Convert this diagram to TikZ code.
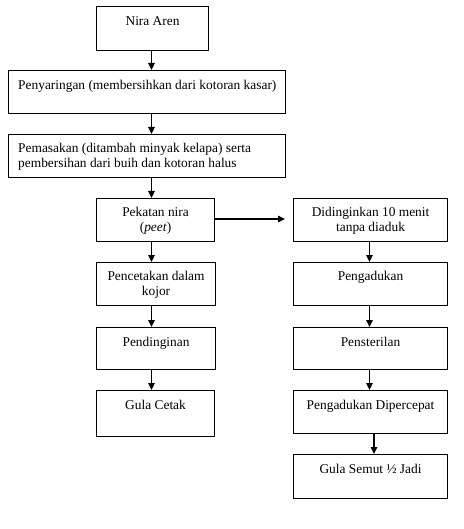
\documentclass[tikz,border=0pt]{standalone}
\usepackage{fontspec}
\setmainfont{Liberation Serif}
\usetikzlibrary{arrows.meta,calc}
\begin{document}
\begin{tikzpicture}[x=1pt,y=-1pt,
  box/.style={draw,line width=1.1pt,anchor=north west,inner sep=0pt},
  lbl/.style={anchor=north,inner sep=0pt,font=\fontsize{13.4}{15}\selectfont,align=center},
  lbll/.style={anchor=north west,inner sep=0pt,font=\fontsize{13.4}{15}\selectfont,align=left},
  arr/.style={line width=1.1pt,-{Triangle[length=7pt,width=6.5pt]}}]
\useasboundingbox (0,0) rectangle (463,529);
% left column boxes
\node[box,minimum width=112pt,minimum height=44pt] (n1) at (96,6) {};
\node[box,minimum width=277pt,minimum height=43pt] (n2) at (8,70) {};
\node[box,minimum width=277pt,minimum height=43pt] (n3) at (8,134) {};
\node[box,minimum width=118pt,minimum height=43pt] (n4) at (96,198) {};
\node[box,minimum width=119pt,minimum height=43pt] (n5) at (96,262) {};
\node[box,minimum width=119pt,minimum height=42pt] (n6) at (96,327) {};
\node[box,minimum width=118pt,minimum height=46pt] (n7) at (96,390) {};
% right column boxes
\node[box,minimum width=154pt,minimum height=43pt] (r1) at (293,198) {};
\node[box,minimum width=154pt,minimum height=43pt] (r2) at (293,262) {};
\node[box,minimum width=154pt,minimum height=42pt] (r3) at (293,327) {};
\node[box,minimum width=154pt,minimum height=43pt] (r4) at (293,390) {};
\node[box,minimum width=154pt,minimum height=44pt] (r5) at (293,454) {};
% labels
\node[lbl] (t1) at ($(n1.north)+(0,10)$) {Nira Aren};
\node[lbll] (t2) at ($(n2.north west)+(10,10)$) {Penyaringan (membersihkan dari kotoran kasar)};
\node[lbll] (t3) at ($(n3.north west)+(10,9.5)$) {Pemasakan (ditambah minyak kelapa) serta\\pembersihan dari buih dan kotoran halus};
\node[lbl] (t4) at ($(n4.north)+(0,9.5)$) {Pekatan nira\\(\textit{peet})};
\node[lbl] (t5) at ($(n5.north)+(0,9.5)$) {Pencetakan dalam\\kojor};
\node[lbl] (t6) at ($(n6.north)+(0,9.5)$) {Pendinginan};
\node[lbl] (t7) at ($(n7.north)+(0,9.5)$) {Gula Cetak};
\node[lbl] (u1) at ($(r1.north)+(0,9.5)$) {Didinginkan 10 menit\\tanpa diaduk};
\node[lbl] (u2) at ($(r2.north)+(0,9.5)$) {Pengadukan};
\node[lbl] (u3) at ($(r3.north)+(0,9.5)$) {Pensterilan};
\node[lbl] (u4) at ($(r4.north)+(0,9.5)$) {Pengadukan Dipercepat};
\node[lbl] (u5) at ($(r5.north)+(0,9.5)$) {Gula Semut ½ Jadi};
% arrows left
\coordinate (lx) at (151.5,0);
\draw[arr] (lx |- n1.south) -- (lx |- n2.north);
\draw[arr] (lx |- n2.south) -- (lx |- n3.north);
\draw[arr] (lx |- n3.south) -- (lx |- n4.north);
\draw[arr] (lx |- n4.south) -- (lx |- n5.north);
\draw[arr] (lx |- n5.south) -- (lx |- n6.north);
\draw[arr] (lx |- n6.south) -- (lx |- n7.north);
% horizontal
\draw[arr,shorten >=8pt] (n4.east |- 0,219) -- (r1.west |- 0,219);
% arrows right
\coordinate (rx) at (369.5,0);
\coordinate (rx2) at (374,0);
\draw[arr] (rx |- r1.south) -- (rx |- r2.north);
\draw[arr] (rx |- r2.south) -- (rx |- r3.north);
\draw[arr] (rx |- r3.south) -- (rx |- r4.north);
\draw[arr] (rx2 |- r4.south) -- (rx2 |- r5.north);
\end{tikzpicture}
\end{document}
